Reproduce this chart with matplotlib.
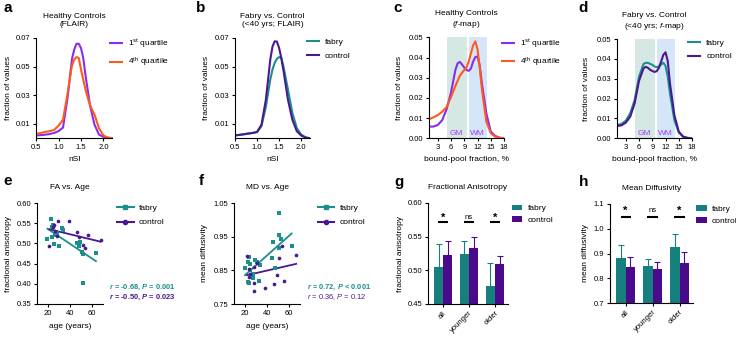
import numpy as np
import matplotlib
matplotlib.use("Agg")
from matplotlib import pyplot as plt
from matplotlib.lines import Line2D

plt.rcParams['font.family'] = ['Liberation Sans', 'DejaVu Sans']
plt.rcParams['mathtext.fontset'] = 'custom'
plt.rcParams['mathtext.rm'] = 'Liberation Sans'
plt.rcParams['mathtext.it'] = 'Liberation Sans:italic'
plt.rcParams['mathtext.bf'] = 'Liberation Sans:bold'
plt.rcParams['mathtext.bfit'] = 'Liberation Sans:italic:bold'

# ---- data: FLAIR histograms (a, b)
nsi_x = [0.5, 0.6, 0.7, 0.8, 0.9, 1.0, 1.1, 1.2, 1.3, 1.35, 1.4, 1.45, 1.5, 1.55, 1.6, 1.7, 1.8, 1.9, 2.0, 2.1, 2.2]
flair_q1 = [0.0020, 0.0022, 0.0025, 0.0030, 0.0037, 0.0050, 0.0075, 0.028, 0.0555, 0.062, 0.066, 0.066, 0.063, 0.056, 0.044, 0.023, 0.0095, 0.0026, 0.0010, 0.0003, 0.0]
flair_q4 = [0.0030, 0.0037, 0.0044, 0.0050, 0.0058, 0.0088, 0.013, 0.031, 0.051, 0.055, 0.0567, 0.056, 0.048, 0.041, 0.034, 0.023, 0.0165, 0.0070, 0.0019, 0.0005, 0.0]
flair_fabry = [0.0020, 0.0024, 0.0028, 0.0033, 0.0038, 0.0044, 0.0084, 0.022, 0.041, 0.048, 0.0526, 0.0555, 0.0567, 0.056, 0.050, 0.034, 0.0177, 0.0072, 0.0026, 0.0007, 0.0]
flair_ctrl = [0.0020, 0.0024, 0.0028, 0.0033, 0.0037, 0.0044, 0.0095, 0.027, 0.055, 0.064, 0.0677, 0.0675, 0.063, 0.056, 0.047, 0.027, 0.013, 0.005, 0.0019, 0.0005, 0.0]

# ---- data: f-map histograms (c, d)
bpf_x = [1, 2, 3, 4, 5, 6, 7, 7.5, 8, 8.5, 9, 9.5, 10, 10.5, 11, 11.5, 12, 12.5, 13, 14, 15, 16, 17, 18]
fmap_q1 = [0.0058, 0.0058, 0.0066, 0.009, 0.0145, 0.0228, 0.034, 0.0372, 0.0378, 0.0365, 0.035, 0.0338, 0.0334, 0.0345, 0.038, 0.0402, 0.0405, 0.036, 0.027, 0.0124, 0.0033, 0.0012, 0.0003, 0.0]
fmap_q4 = [0.0094, 0.0104, 0.0115, 0.0132, 0.0155, 0.0205, 0.026, 0.0285, 0.031, 0.0325, 0.0338, 0.035, 0.038, 0.042, 0.046, 0.048, 0.044, 0.035, 0.024, 0.0083, 0.0025, 0.0008, 0.0002, 0.0]
fmap_fabry = [0.0067, 0.0072, 0.0089, 0.0126, 0.0193, 0.031, 0.0374, 0.0380, 0.0380, 0.0375, 0.037, 0.0362, 0.0358, 0.0362, 0.0372, 0.0380, 0.0365, 0.031, 0.0227, 0.0092, 0.0029, 0.0008, 0.0002, 0.0]
fmap_ctrl = [0.0062, 0.0065, 0.0079, 0.0109, 0.0176, 0.029, 0.0352, 0.036, 0.0355, 0.0345, 0.0339, 0.0334, 0.0338, 0.0355, 0.0386, 0.042, 0.0433, 0.039, 0.0277, 0.0117, 0.0034, 0.0008, 0.0002, 0.0]
gm_range = [5.0, 9.6]
wm_range = [10.0, 14.1]

# ---- data: FA / MD vs age (e, f)
fa_age_fabry = [19.5, 22.4, 23.4, 23.9, 24.5, 25.5, 26.5, 28, 29.7, 32.7, 33.4, 46.6, 49, 48, 51, 51.6, 51.5, 63.6]
fa_fabry = [0.510, 0.560, 0.515, 0.541, 0.545, 0.498, 0.521, 0.525, 0.494, 0.538, 0.532, 0.502, 0.503, 0.494, 0.478, 0.474, 0.401, 0.477]
fa_age_ctrl = [21.2, 24.2, 25, 26.6, 28, 28.8, 38.8, 46.6, 48, 51.5, 53.6, 56.6, 67.9]
fa_ctrl = [0.494, 0.541, 0.546, 0.531, 0.519, 0.555, 0.555, 0.527, 0.516, 0.496, 0.488, 0.520, 0.508]

md_age_fabry = [20, 22.4, 22.6, 23.2, 24, 24.7, 24.7, 27.4, 27.6, 29.4, 31.2, 32.4, 33.2, 44.7, 45.3, 47.6, 50.9, 51, 51.2, 52.4, 62.4]
md_fabry = [0.857, 0.875, 0.815, 0.890, 0.813, 0.868, 0.850, 0.827, 0.840, 0.880, 0.875, 0.818, 0.865, 0.887, 0.934, 0.858, 0.955, 0.917, 1.020, 0.942, 0.922]
md_age_ctrl = [21.8, 23.5, 23.5, 24.4, 27.9, 28.2, 28.5, 30.9, 37.9, 46.8, 48.8, 50.6, 53.2, 55.6, 66.5]
md_ctrl = [0.893, 0.830, 0.855, 0.838, 0.861, 0.813, 0.788, 0.872, 0.798, 0.809, 0.835, 0.887, 0.922, 0.818, 0.897]

# ---- data: bar charts (g, h)
groups = ["all", "younger", "older"]
fa_mean_fabry = [0.505, 0.524, 0.477]
fa_sd_fabry = [0.034, 0.019, 0.034]
fa_mean_ctrl = [0.523, 0.533, 0.509]
fa_sd_ctrl = [0.020, 0.017, 0.013]
fa_sig = ["*", "ns", "*"]
md_mean_fabry = [0.880, 0.849, 0.928]
md_sd_fabry = [0.055, 0.027, 0.049]
md_mean_ctrl = [0.847, 0.836, 0.863]
md_sd_ctrl = [0.038, 0.031, 0.042]
md_sig = ["*", "ns", "*"]

PURP_Q1 = '#8a2cf0'
ORANGE = '#ff5a1e'
TEAL = '#1a8f8c'
DPURP = '#4a1890'
BAR_TEAL = '#15807d'
BAR_PURP = '#4b0a8c'
GM_C = '#d6e8e4'
WM_C = '#d5e6f8'
ZONE_TXT = '#a040ff'

W, H = 736, 338
fig = plt.figure(figsize=(W / 100, H / 100), dpi=100)
FS = 6
TFS = 5.5


def add_ax(l, t, r, b):
    return fig.add_axes([l / W, 1 - b / H, (r - l) / W, (b - t) / H])


def style(ax):
    for s in ["top", "right"]:
        ax.spines[s].set_visible(False)
    for s in ["left", "bottom"]:
        ax.spines[s].set_linewidth(0.8)
    ax.tick_params(direction='out', length=2.5, width=0.8, labelsize=TFS, pad=1.5)


def letter(x, y, s):
    fig.text(x / W, 1 - y / H, s, fontsize=11, fontweight='bold', ha='left', va='center')


def line_legend(ax, labels, colors, x, y, markers, hl=1.5):
    handles = [Line2D([0], [0], color=c, lw=1.5, marker=m, markersize=3) for c, m in zip(colors, markers)]
    ax.legend(handles, labels, loc='upper left', bbox_to_anchor=(x, y), frameon=False,
              fontsize=FS, handlelength=hl, handletextpad=0.6, labelspacing=0.75,
              borderpad=0, borderaxespad=0)


def flair_panel(ax, ya, yb, ca, cb, la, lb, title, ylab_x, leg_x):
    style(ax)
    ax.plot(nsi_x, ya, color=ca, lw=1.5, label=la)
    ax.plot(nsi_x, yb, color=cb, lw=1.5, label=lb)
    ax.set_xlim(0.5, 2.2)
    ax.set_ylim(0, 0.07)
    ax.set_xticks([0.5, 1.0, 1.5, 2.0])
    ax.set_yticks([0.01, 0.03, 0.05, 0.07])
    ax.set_xlabel("nSI", fontsize=FS)
    ax.set_ylabel("fraction of values", fontsize=FS)
    ax.yaxis.set_label_coords(ylab_x, 0.5)
    ax.xaxis.set_label_coords(0.5, -0.18)
    ax.text(0.5, 1.17, title, transform=ax.transAxes, ha='center', va='center', fontsize=FS)
    ax.legend(loc='upper left', bbox_to_anchor=(leg_x, 1.0), frameon=False, fontsize=FS,
              handlelength=1.45, handletextpad=0.7, labelspacing=0.7, borderpad=0, borderaxespad=0)


# ---- a
ax = add_ax(36, 38, 112.5, 138.3)
flair_panel(ax, flair_q1, flair_q4, PURP_Q1, ORANGE, "1$^{\\rm st}$ quartile", "4$^{\\rm th}$ quartile",
            "Healthy Controls\n(FLAIR)", -0.31, 0.97)
letter(3, 8, "a")

# ---- b
ax = add_ax(235, 38, 310, 138.3)
flair_panel(ax, flair_fabry, flair_ctrl, TEAL, DPURP, "fabry", "control",
            "Fabry vs. Control\n(<40 yrs; FLAIR)", -0.33, 0.96)
letter(196, 8, "b")


def fmap_panel(ax, ya, yb, ca, cb, la, lb, title, ylab_x, leg_x):
    style(ax)
    ax.axvspan(gm_range[0], gm_range[1], color=GM_C, lw=0, zorder=0)
    ax.axvspan(wm_range[0], wm_range[1], color=WM_C, lw=0, zorder=0)
    ax.plot(bpf_x, ya, color=ca, lw=1.5, label=la)
    ax.plot(bpf_x, yb, color=cb, lw=1.5, label=lb)
    ax.text(np.mean(gm_range) - 0.1, 0.0025, "GM", color=ZONE_TXT, fontsize=FS, ha='center', va='center')
    ax.text(np.mean(wm_range), 0.0025, "WM", color=ZONE_TXT, fontsize=FS, ha='center', va='center')
    ax.set_xlim(1, 18)
    ax.set_ylim(0, 0.05)
    ax.set_xticks([3, 6, 9, 12, 15, 18])
    ax.set_yticks([0.0, 0.01, 0.02, 0.03, 0.04, 0.05])
    ax.set_yticklabels(["0.00", "0.01", "0.02", "0.03", "0.04", "0.05"])
    ax.set_xlabel("bound-pool fraction, %", fontsize=FS)
    ax.set_ylabel("fraction of values", fontsize=FS)
    ax.yaxis.set_label_coords(ylab_x, 0.5)
    ax.xaxis.set_label_coords(0.5, -0.18)
    ax.text(0.5, 1.17, title, transform=ax.transAxes, ha='center', va='center', fontsize=FS)
    ax.legend(loc='upper left', bbox_to_anchor=(leg_x, 1.0), frameon=False, fontsize=FS,
              handlelength=1.45, handletextpad=0.7, labelspacing=0.7, borderpad=0, borderaxespad=0)


# ---- c
ax = add_ax(429, 37.3, 504, 138.3)
fmap_panel(ax, fmap_q1, fmap_q4, PURP_Q1, ORANGE, "1$^{\\rm st}$ quartile", "4$^{\\rm th}$ quartile",
           "Healthy Controls\n($\\it{f}$-map)", -0.35, 0.97)
letter(393, 8, "c")

# ---- d
ax = add_ax(617, 39, 692, 138.3)
fmap_panel(ax, fmap_fabry, fmap_ctrl, TEAL, DPURP, "fabry", "control",
           "Fabry vs. Control\n(<40 yrs; $\\it{f}$-map)", -0.36, 0.95)
letter(578, 8, "d")


def scatter_panel(ax, xa, ya, xb, yb, title, ylab, ylim, yticks, ylab_x, leg_x, stats, stat_w, stat_x):
    style(ax)
    for xs, ys, c, m in [(xa, ya, TEAL, 's'), (xb, yb, DPURP, 'o')]:
        xs = np.array(xs)
        ys = np.array(ys)
        ax.scatter(xs, ys, s=7, marker=m, color=c, lw=0, zorder=3)
        k, b0 = np.polyfit(xs, ys, 1)
        xx = np.array([xs.min(), xs.max()])
        ax.plot(xx, k * xx + b0, color=c, lw=1.3, zorder=2)
    ax.set_xlim(10, 70)
    ax.set_ylim(*ylim)
    ax.set_xticks([20, 40, 60])
    ax.set_yticks(yticks)
    ax.set_xlabel("age (years)", fontsize=FS)
    ax.set_ylabel(ylab, fontsize=FS)
    ax.yaxis.set_label_coords(ylab_x, 0.5)
    ax.xaxis.set_label_coords(0.5, -0.19)
    ax.set_title(title, fontsize=FS, pad=10)
    line_legend(ax, ["fabry", "control"], [TEAL, DPURP], leg_x, 0.985, ['s', 'o'], hl=2.0)
    ax.text(stat_x, 0.16, stats[0], color=TEAL, fontsize=5.4, fontweight=stat_w[0],
            transform=ax.transAxes, ha='left', va='center')
    ax.text(stat_x, 0.07, stats[1], color=DPURP, fontsize=5.4, fontweight=stat_w[1],
            transform=ax.transAxes, ha='left', va='center')


# ---- e
ax = add_ax(37, 203, 103, 304)
scatter_panel(ax, fa_age_fabry, fa_fabry, fa_age_ctrl, fa_ctrl, "FA vs. Age", "fractional anisotropy",
              (0.35, 0.60), [0.35, 0.40, 0.45, 0.50, 0.55, 0.60], -0.38, 1.21,
              ["$\\mathbfit{r}$ = -0.68, $\\mathbfit{P}$ = 0.001", "$\\mathbfit{r}$ = -0.50, $\\mathbfit{P}$ = 0.023"],
              ['bold', 'bold'], 1.09)
letter(3, 181, "e")

# ---- f
ax = add_ax(234, 203, 300, 304)
scatter_panel(ax, md_age_fabry, md_fabry, md_age_ctrl, md_ctrl, "MD vs. Age", "mean diffusivity",
              (0.75, 1.05), [0.75, 0.85, 0.95, 1.05], -0.39, 1.27,
              ["$\\mathbfit{r}$ = 0.72, $\\mathbfit{P}$ < 0.001", "$\\it{r}$ = 0.36, $\\it{P}$ = 0.12"],
              ['bold', 'normal'], 1.105)
letter(199, 181, "f")


def bar_panel(ax, mf, sf, mc, sc, sig, sig_y, star_y, title, ylab, ylim, yticks, ylab_x, leg_x):
    style(ax)
    x = np.arange(len(groups))
    w = 0.35
    ax.bar(x - w / 2, mf, w, color=BAR_TEAL, label="fabry", zorder=2)
    ax.bar(x + w / 2, mc, w, color=BAR_PURP, label="control", zorder=2)
    ax.errorbar(x - w / 2, mf, yerr=[np.zeros(3), sf], fmt='none', ecolor=BAR_TEAL, elinewidth=0.8,
                capsize=2.5, capthick=0.8, zorder=1)
    ax.errorbar(x + w / 2, mc, yerr=[np.zeros(3), sc], fmt='none', ecolor=BAR_PURP, elinewidth=0.8,
                capsize=2.5, capthick=0.8, zorder=1)
    for i, s in enumerate(sig):
        ax.plot([i - 0.19, i + 0.19], [sig_y, sig_y], color='black', lw=1.5, solid_capstyle='butt')
        if s == '*':
            ax.text(i, star_y, s, ha='center', va='center', fontsize=8, fontweight='bold')
        else:
            ax.text(i, star_y, s, ha='center', va='center', fontsize=5.5)
    ax.set_xlim(-0.58, 2.5)
    ax.set_ylim(*ylim)
    ax.set_yticks(yticks)
    ax.set_xticks(x)
    ax.set_xticklabels(groups, rotation=45, ha='right', rotation_mode='anchor', fontsize=TFS)
    ax.set_ylabel(ylab, fontsize=FS)
    ax.yaxis.set_label_coords(ylab_x, 0.5)
    ax.set_title(title, fontsize=FS, pad=10)
    ax.legend(loc='upper left', bbox_to_anchor=(leg_x, 0.985), frameon=False, fontsize=FS,
              handlelength=1.25, handleheight=0.7, handletextpad=0.6, labelspacing=0.45,
              borderpad=0, borderaxespad=0)


# ---- g
ax = add_ax(428, 203, 508, 304)
bar_panel(ax, fa_mean_fabry, fa_sd_fabry, fa_mean_ctrl, fa_sd_ctrl, fa_sig, 0.572, 0.578,
          "Fractional Anisotropy", "fractional anisotropy", (0.45, 0.60), [0.45, 0.50, 0.55, 0.60], -0.30, 1.05)
letter(394, 182, "g")

# ---- h
ax = add_ax(610, 204, 693, 303)
bar_panel(ax, md_mean_fabry, md_sd_fabry, md_mean_ctrl, md_sd_ctrl, md_sig, 1.049, 1.072,
          "Mean Diffusivity", "mean diffusivity", (0.7, 1.1), [0.7, 0.8, 0.9, 1.0, 1.1], -0.25, 1.04)
letter(579, 182, "h")

fig.savefig("out.png", dpi=100)
